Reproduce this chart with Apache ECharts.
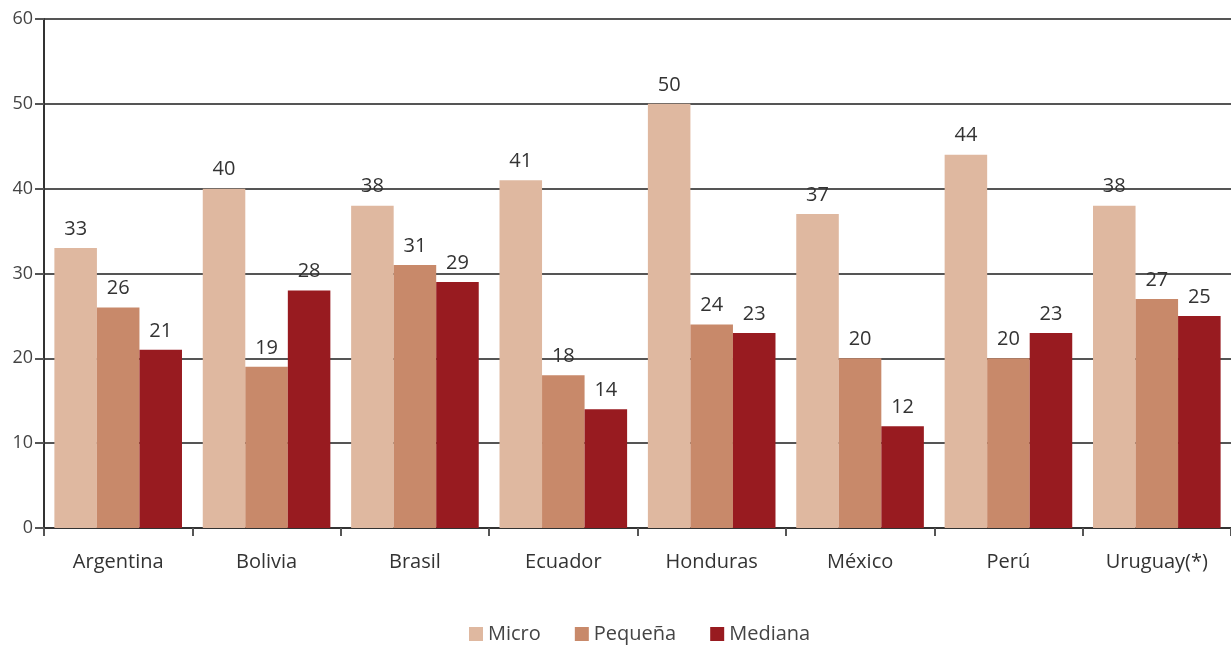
<!DOCTYPE html>
<html>
<head>
<meta charset="utf-8">
<script src="https://cdn.jsdelivr.net/npm/echarts@6/dist/echarts.min.js"></script>
<style>
  html, body { margin: 0; padding: 0; background: #fff; }
  #chart { width: 1231px; height: 651px; }
</style>
</head>
<body>
<div id="chart"></div>
<script>
const categories = ['Argentina', 'Bolivia', 'Brasil', 'Ecuador', 'Honduras', 'México', 'Perú', 'Uruguay(*)'];
const micro   = [33, 40, 38, 41, 50, 37, 44, 38];
const pequena = [26, 19, 31, 18, 24, 20, 20, 27];
const mediana = [21, 28, 29, 14, 23, 12, 23, 25];
const seriesNames = ['Micro', 'Pequeña', 'Mediana'];
const colors = ['#DFB8A0', '#C8896A', '#981B20'];

const fontFamily = '"Open Sans", "Noto Sans", sans-serif';
const chart = echarts.init(document.getElementById('chart'), null, { renderer: 'canvas' });

const labelStyle = {
  show: true,
  position: 'top',
  distance: 9,
  color: '#333',
  fontSize: 20,
  fontFamily: fontFamily
};

function makeSeries(name, data, color) {
  return {
    name: name,
    type: 'bar',
    data: data,
    barGap: '0%',
    barCategoryGap: '14%',
    itemStyle: { color: color },
    label: labelStyle
  };
}

chart.setOption({
  animation: false,
  color: colors,
  grid: { left: 44, right: 0, top: 19, bottom: 123, containLabel: false },
  legend: {
    bottom: 2,
    left: 464,
    itemWidth: 14,
    itemHeight: 14,
    itemGap: 34,
    icon: 'rect',
    textStyle: { color: '#444', fontSize: 20, fontFamily: fontFamily },
    data: seriesNames
  },
  xAxis: {
    type: 'category',
    data: categories,
    boundaryGap: true,
    axisLine: { show: true, lineStyle: { color: '#333', width: 2 } },
    axisTick: { show: true, alignWithLabel: false, length: 8, lineStyle: { color: '#555', width: 2 } },
    axisLabel: { color: '#333', fontSize: 20, fontFamily: fontFamily, margin: 24 }
  },
  yAxis: {
    type: 'value',
    min: 0,
    max: 60,
    interval: 10,
    axisLine: { show: true, lineStyle: { color: '#333', width: 2 } },
    axisTick: { show: true, length: 9, lineStyle: { color: '#555', width: 2 } },
    axisLabel: { color: '#444', fontSize: 18, fontFamily: fontFamily, margin: 11 },
    splitLine: { show: true, lineStyle: { color: '#555', width: 2 } }
  },
  series: [
    makeSeries(seriesNames[0], micro, colors[0]),
    makeSeries(seriesNames[1], pequena, colors[1]),
    makeSeries(seriesNames[2], mediana, colors[2])
  ]
});
</script>
</body>
</html>
